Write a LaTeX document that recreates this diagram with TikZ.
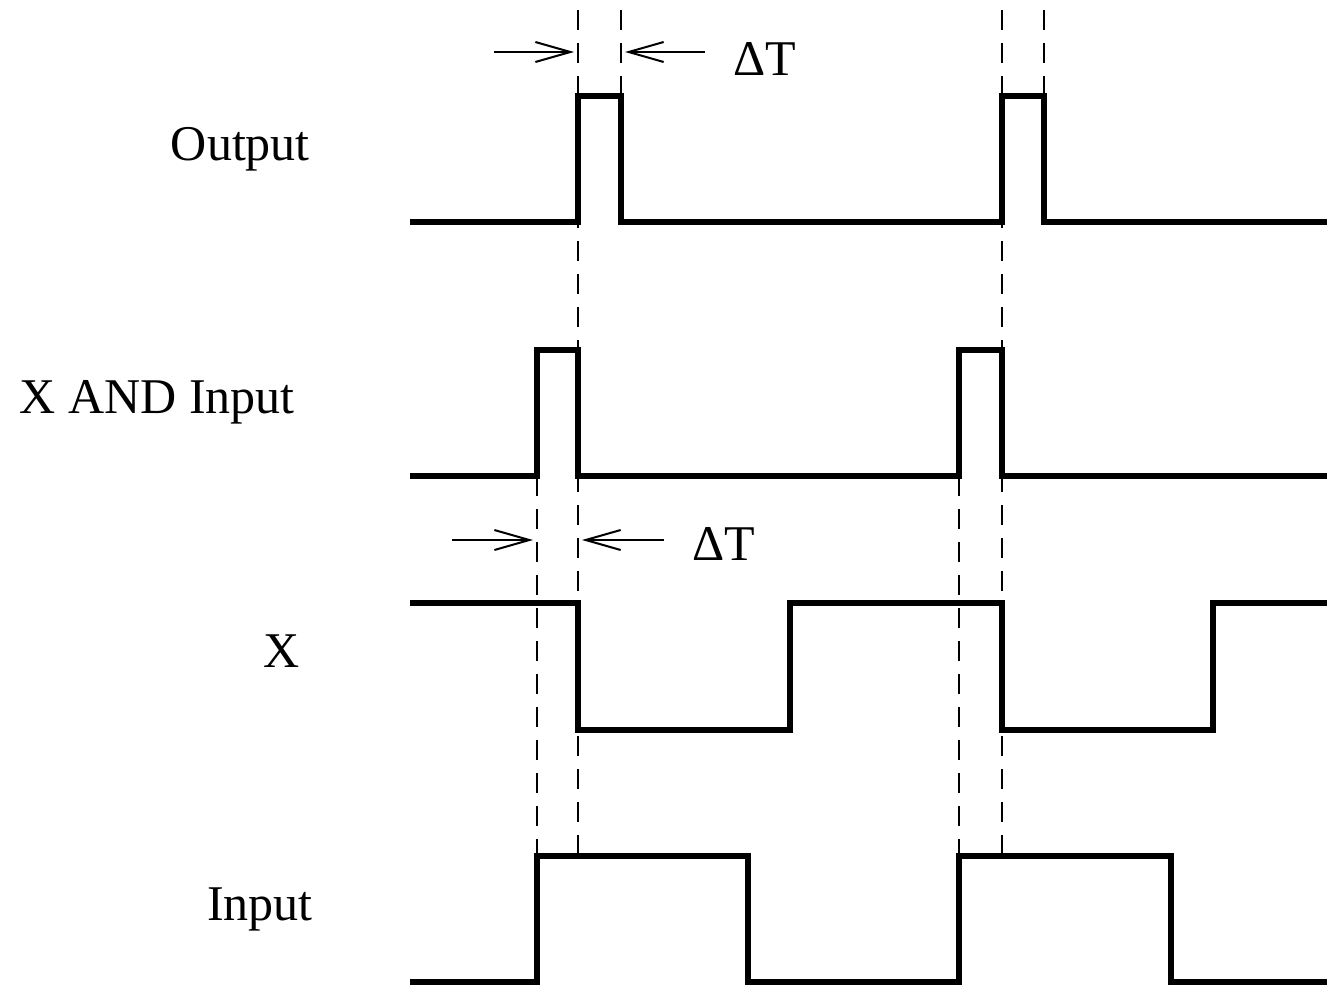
\documentclass[tikz,border=0pt]{standalone}
\usepackage{fontspec}
\setmainfont{Liberation Serif}
\usetikzlibrary{arrows.meta}
\begin{document}
\begin{tikzpicture}[x=1pt,y=-1pt,
  wave/.style={line width=6pt, line join=miter},
  guide/.style={line width=2pt, dash pattern=on 20pt off 13pt},
  dim/.style={line width=2pt, -{Straight Barb[length=35pt,width=20pt,line width=2pt]}},
  lbl/.style={font=\fontsize{50}{60}\selectfont, inner sep=0pt}]
\useasboundingbox (0,0) rectangle (1327,988);
% waveforms
\draw[wave] (410,222) -| (578,96) -| (621,222) -| (1002,96) -| (1044,222) -- (1327,222);
\draw[wave] (410,476) -| (537,350) -| (578,476) -| (959,350) -| (1002,476) -- (1327,476);
\draw[wave] (410,603) -| (578,730) -| (790,603) -| (1002,730) -| (1213,603) -- (1327,603);
\draw[wave] (410,982) -| (537,856) -| (748,982) -| (959,856) -| (1171,982) -- (1327,982);
% guide coordinates
\coordinate (g1t) at (578,10);  \coordinate (g1b) at (578,856);
\coordinate (g2t) at (621,10);  \coordinate (g2b) at (621,96);
\coordinate (g3t) at (537,476); \coordinate (g3b) at (537,856);
\coordinate (g4t) at (959,476); \coordinate (g4b) at (959,856);
\coordinate (g5t) at (1002,10); \coordinate (g5b) at (1002,856);
\coordinate (g6t) at (1044,10); \coordinate (g6b) at (1044,96);
\draw[guide] (g1t) -- (g1b);
\draw[guide] (g2t) -- (g2b);
\draw[guide] (g3t) -- (g3b);
\draw[guide] (g4t) -- (g4b);
\draw[guide] (g5t) -- (g5b);
\draw[guide] (g6t) -- (g6b);
% dimension arrows
\coordinate (a1s) at (494,52); \coordinate (a1e) at (574,52);
\coordinate (a2s) at (705,52); \coordinate (a2e) at (625,52);
\coordinate (b1s) at (452,540); \coordinate (b1e) at (533,540);
\coordinate (b2s) at (664,540); \coordinate (b2e) at (582,540);
\draw[dim] (a1s) -- (a1e);
\draw[dim] (a2s) -- (a2e);
\draw[dim] (b1s) -- (b1e);
\draw[dim] (b2s) -- (b2e);
\node[lbl, anchor=base west] (dt1) at (733,75) {ΔT};
\node[lbl, anchor=base west] (dt2) at (692,560) {ΔT};
% labels
\node[lbl, anchor=base east] (lout) at (310,160) {Output};
\node[lbl, anchor=base east] (land) at (295,413) {X AND Input};
\node[lbl, anchor=base east] (lx) at (300,667) {X};
\node[lbl, anchor=base east] (lin) at (313,920) {Input};
\end{tikzpicture}
\end{document}
